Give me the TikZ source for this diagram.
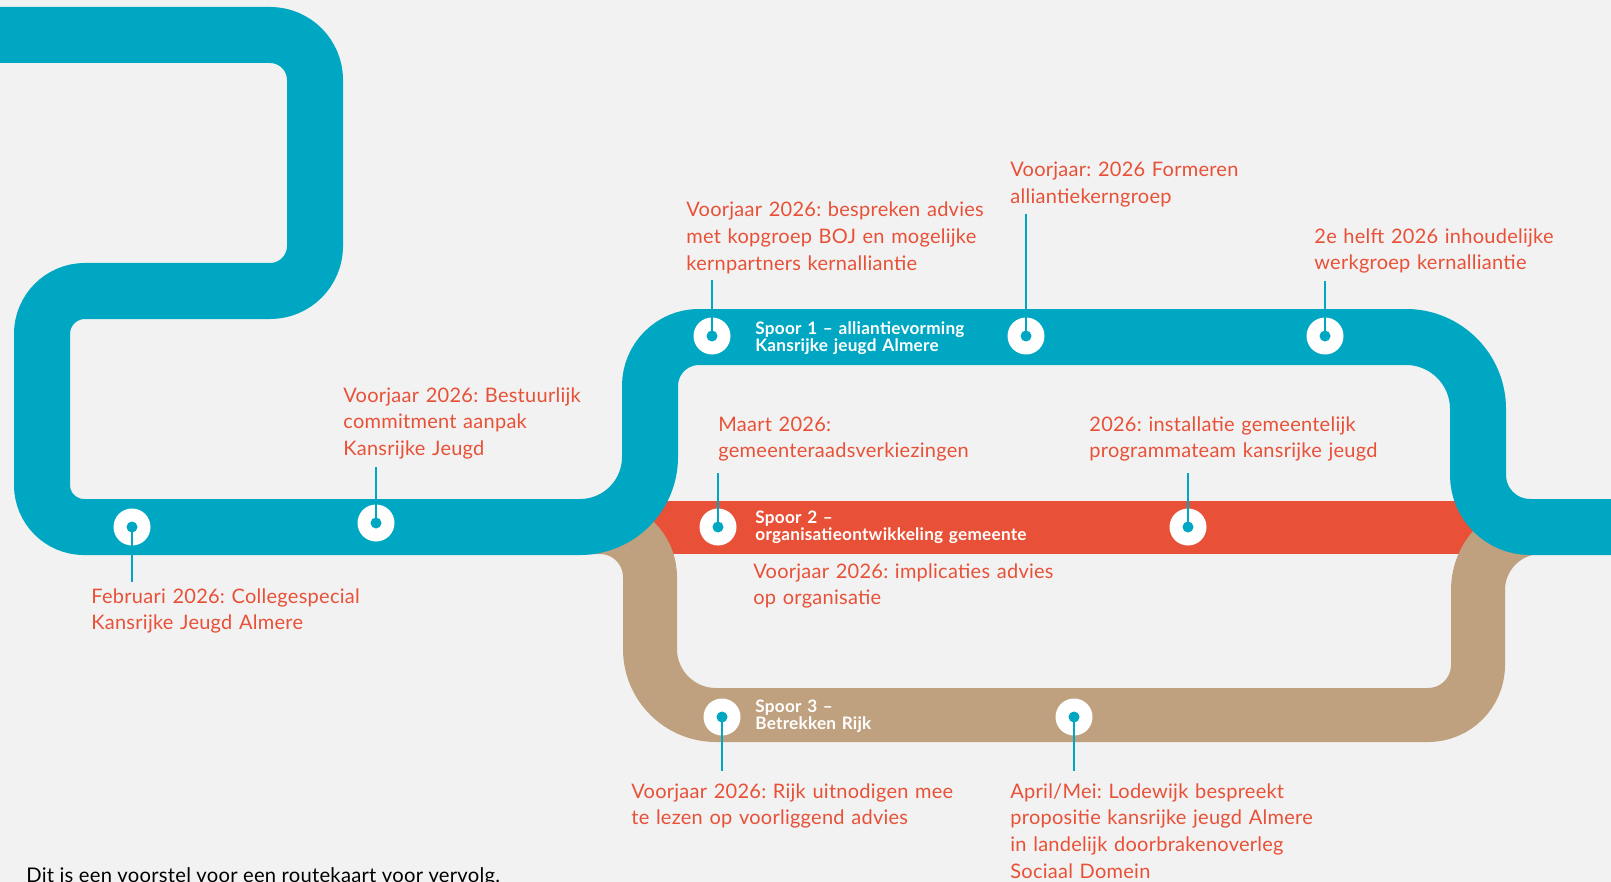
\documentclass[tikz,border=0pt]{standalone}
\usepackage{fontspec}
\setmainfont{Lato}[LetterSpace=1.3]
\frenchspacing
\usetikzlibrary{positioning}
\definecolor{trackblue}{RGB}{0,167,194}
\definecolor{trackred}{RGB}{232,81,55}
\definecolor{tracktan}{RGB}{192,161,127}
\definecolor{bggray}{RGB}{242,242,242}

\tikzset{
  stop/.style={circle, fill=white, minimum size=18.5pt, inner sep=0pt},
  stopdot/.style={circle, fill=trackblue, minimum size=5.5pt, inner sep=0pt},
  tick/.style={trackblue, line width=1.35pt},
  lbl/.style={text=trackred, font=\fontsize{10}{13.35}\selectfont, text width=180pt, align=left, inner sep=0pt, anchor=base west},
  spoorlbl/.style={text=white, font=\bfseries\fontsize{8.6}{8.85}\selectfont, text width=180pt, align=left, inner sep=0pt, anchor=base west},
  note/.style={text=black, font=\fontsize{10.1}{12}\selectfont, inner sep=0pt, anchor=base west}
}

\begin{document}
\begin{tikzpicture}[x=0.5pt, y=0.5pt, yscale=-1]
  \useasboundingbox (0,0) rectangle (1611,882);
  \clip (0,0) rectangle (1611,882);
  \fill[bggray] (0,0) rectangle (1611,882);

  % tracks
  \draw[trackred, line width=26.5pt] (590,527) -- (1490,527);
  \draw[tracktan, line width=27pt] (560,527) -- (600,527) arc(270:360:50) -- (650,649) arc(180:90:66)
    -- (1428,715) arc(90:0:50) -- (1478,590) arc(180:270:63) -- (1625,527);
  \draw[trackblue, line width=28pt] (-10,35) -- (270,35) arc(270:360:45) -- (315,246) arc(0:90:45)
    -- (85,291) arc(270:180:43) -- (42,485) arc(180:90:42) -- (580,527) arc(90:0:70)
    -- (650,386) arc(180:270:49) -- (1406,337) arc(270:360:72) -- (1478,475) arc(180:90:52) -- (1625,527);

  % stops
  \foreach \name/\x/\y/\ey in {feb/132/527/582, bestuur/376/523/467, bespreek/712/336/280,
      formeer/1026/336/214, werkgroep/1325/336/281, maart/718/527/473, programma/1188/527/473,
      rijk/722/717/771, lodewijk/1074/717/771} {
    \node[stop] (\name) at (\x,\y) {};
    \coordinate (\name-end) at (\x,\ey);
    \draw[tick] (\name.center) -- (\name-end);
    \node[stopdot] (\name-dot) at (\name) {};
  }

  \node[spoorlbl] (spoor1) at (755,334) {Spoor 1 -- alliantievorming\\Kansrijke jeugd Almere};
  \node[spoorlbl] (spoor2) at (755,523) {Spoor 2 --\\organisatieontwikkeling gemeente};
  \node[spoorlbl] (spoor3) at (755,712) {Spoor 3 --\\Betrekken Rijk};

  \node[lbl] (feb-lbl) at (91,603) {Februari 2026: Collegespecial\\Kansrijke Jeugd Almere};
  \node[lbl] (bestuur-lbl) at (343,402) {Voorjaar 2026: Bestuurlijk\\commitment aanpak\\Kansrijke Jeugd};
  \node[lbl] (bespreek-lbl) at (686,217) {Voorjaar 2026: bespreken advies\\met kopgroep BOJ en mogelijke\\kernpartners kernalliantie};
  \node[lbl] (formeer-lbl) at (1010,177) {Voorjaar: 2026 Formeren\\alliantiekerngroep};
  \node[lbl] (werkgroep-lbl) at (1314,243) {2e helft 2026 inhoudelijke\\werkgroep kernalliantie};
  \node[lbl] (maart-lbl) at (718,431) {Maart 2026:\\gemeenteraadsverkiezingen};
  \node[lbl] (implicatie-lbl) at (753,578) {Voorjaar 2026: implicaties advies\\op organisatie};
  \node[lbl] (programma-lbl) at (1089,431) {2026: installatie gemeentelijk\\programmateam kansrijke jeugd};
  \node[lbl] (rijk-lbl) at (631,798) {Voorjaar 2026: Rijk uitnodigen mee\\te lezen op voorliggend advies};
  \node[lbl] (lodewijk-lbl) at (1010,798) {April/Mei: Lodewijk bespreekt\\propositie kansrijke jeugd Almere\\in landelijk doorbrakenoverleg\\Sociaal Domein};

  \node[note] (voorstel) at (26,882) {Dit is een voorstel voor een routekaart voor vervolg.};
\end{tikzpicture}
\end{document}
